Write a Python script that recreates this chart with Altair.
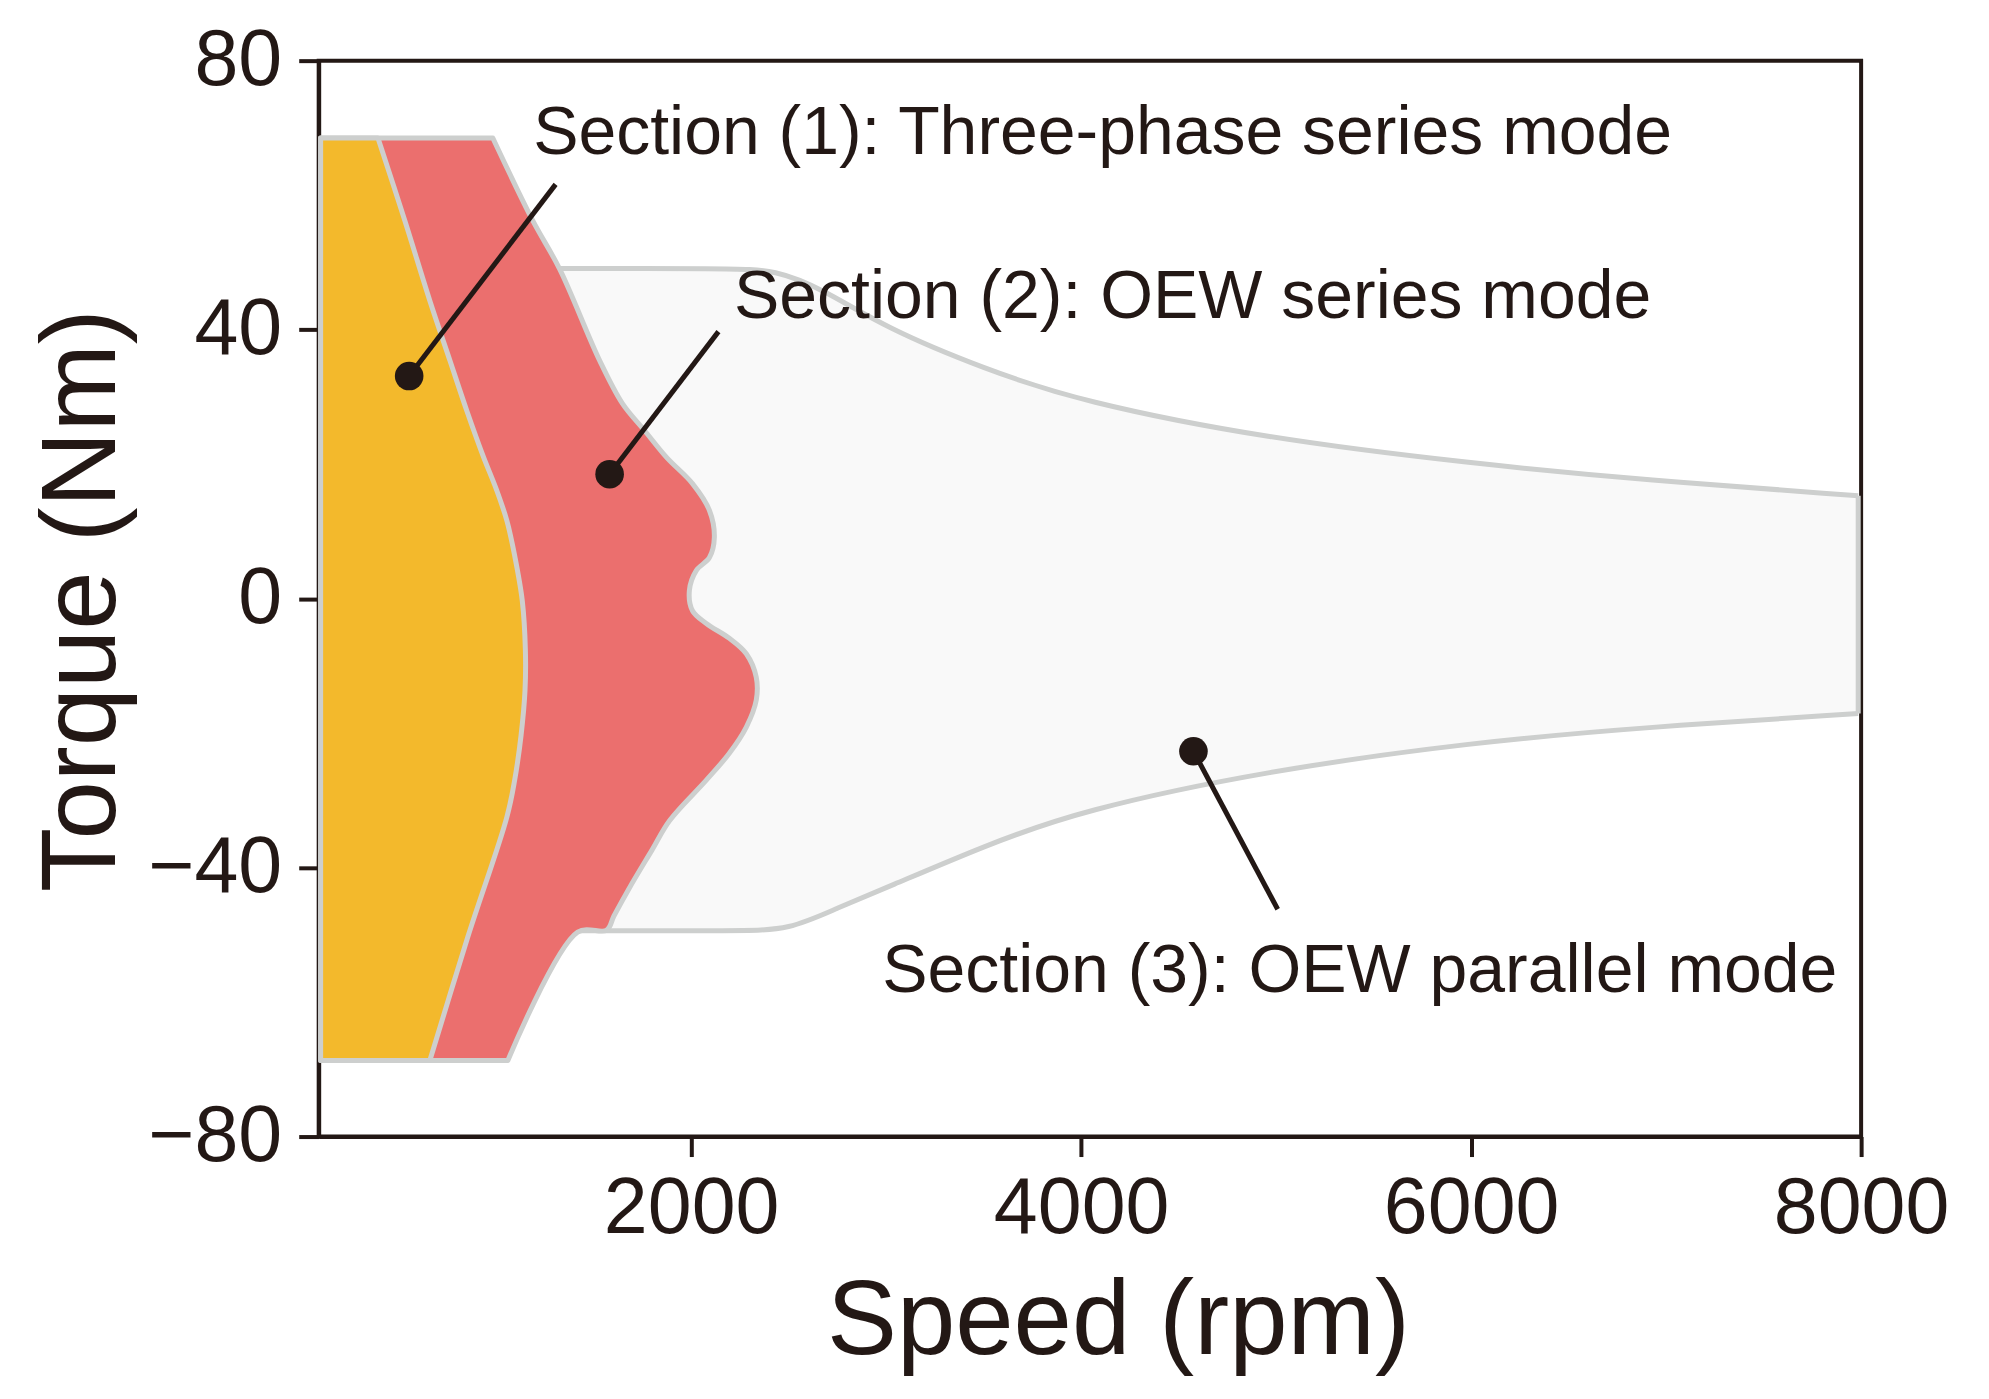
import altair as alt
import pandas as pd

# ---------------- data ----------------
# Section (1) boundary: speed (rpm) reached at each torque (Nm)
yellow_torque = [-68.7, -50.3, -32.5, -27.0, -20.3, -13.7, -7.7, -0.3, 6.4, 11.6,
                 16.1, 21.3, 27.9, 35.4, 44.3, 56.2, 68.5]
yellow_speed = [660, 855, 1055, 1095, 1128, 1148, 1150, 1134, 1095, 1055,
                1003, 932, 850, 763, 660, 532, 394]

# Section (2) boundary
red_torque = [-68.7, -49.6, -49.3, -47.2, -43.1, -37.4, -33.0, -27.0, -23.0, -19.1, -15.1,
              -11.7, -8.2, -5.9, -3.7, -1.8, 1.2, 4.2, 6.1, 9.1, 13.1,
              17.1, 21.0, 25.0, 29.0, 35.4, 49.0, 56.2, 68.5]
red_speed = [1060, 1418, 1567, 1604, 1682, 1799, 1890, 2078, 2196, 2283, 2334,
             2334, 2283, 2196, 2078, 2007, 1991, 2027, 2094, 2119, 2094,
             2007, 1874, 1761, 1648, 1531, 1326, 1188, 983]

# Section (3) outer envelope
upper_speed = [1200, 2200, 2430, 2677, 3002, 3500, 3996, 4952, 5998, 6901, 7985]
upper_torque = [49.1, 49.1, 48.9, 46.0, 40.2, 34.2, 29.3, 23.8, 20.1, 17.6, 15.3]
lower_speed = [1200, 2250, 2500, 2750, 3002, 3500, 3996, 4952, 5998, 6901, 7985]
lower_torque = [-49.4, -49.4, -49.3, -46.0, -43.0, -36.8, -31.5, -25.6, -21.4, -19.1, -17.1]

labels = ["Section (1): Three-phase series mode",
          "Section (2): OEW series mode",
          "Section (3): OEW parallel mode"]
label_x = [1190, 2220, 2980]
label_y = [66.1, 41.8, -58.5]
dot_x = [554, 1582, 4576]
dot_y = [33.1, 18.5, -22.7]
lead_x = [1305, 2140, 5008]
lead_y = [61.6, 39.7, -46.2]

x_ticks = [2000, 4000, 6000, 8000]
y_ticks = [-80, -40, 0, 40, 80]

# ---------------- styling ----------------
INK = "#231815"
EDGE = "#CDCFCE"
YELLOW = "#F3B92C"
RED = "#EB6F6E"
PALE = "#F9F9F9"
FONT = "Liberation Sans"

X = alt.X("x:Q", title="Speed (rpm)",
          scale=alt.Scale(domain=[90, 8000], nice=False, zero=False),
          axis=alt.Axis(values=x_ticks, format="d", grid=False, domainColor=INK, domainWidth=4,
                        tickColor=INK, tickWidth=4, tickSize=20,
                        labelFont=FONT, labelFontSize=79, labelColor=INK, labelPadding=14,
                        labelFlush=False, labelOverlap=False, labelLimit=0,
                        titleFont=FONT, titleFontSize=105, titleColor=INK,
                        titleFontWeight="normal", titleX=800, titleY=217,
                        titleBaseline="alphabetic", titleAlign="center"))
Y = alt.Y("y:Q", title="Torque (Nm)",
          scale=alt.Scale(domain=[-80, 80], nice=False, zero=False),
          axis=alt.Axis(values=y_ticks, format="d", grid=False, domainColor=INK, domainWidth=4,
                        tickColor=INK, tickWidth=4, tickSize=20,
                        labelFont=FONT, labelFontSize=79, labelColor=INK, labelPadding=17,
                        labelOverlap=False, labelLimit=0,
                        titleFont=FONT, titleFontSize=105, titleColor=INK,
                        titleFontWeight="normal", titleX=-204, titleY=540,
                        titleAngle=270, titleBaseline="alphabetic", titleAlign="center"))

# ---------------- tables ----------------
upper_df = pd.DataFrame({"x": upper_speed, "y": upper_torque, "y2": -5.0})
lower_df = pd.DataFrame({"x": lower_speed, "y": lower_torque, "y2": 5.0})
right_df = pd.DataFrame({"x": [upper_speed[-1]], "y": [upper_torque[-1]], "y2": [lower_torque[-1]]})
red_df = pd.DataFrame({"x": red_speed, "y": red_torque, "x2": 100})
yellow_df = pd.DataFrame({"x": yellow_speed, "y": yellow_torque, "x2": 100})
ann_df = pd.DataFrame({"x": dot_x, "y": dot_y, "x2": lead_x, "y2": lead_y})
text_df = pd.DataFrame({"x": label_x, "y": label_y, "t": labels})

env_up = alt.Chart(upper_df).mark_area(interpolate="basis", color=PALE).encode(
    x=X, y=Y, y2="y2:Q")
env_lo = alt.Chart(lower_df).mark_area(interpolate="basis", color=PALE).encode(
    x=X, y=Y, y2="y2:Q")
env_up_line = alt.Chart(upper_df).mark_line(interpolate="basis", color=EDGE,
                                            strokeWidth=5).encode(x=X, y=Y)
env_lo_line = alt.Chart(lower_df).mark_line(interpolate="basis", color=EDGE,
                                            strokeWidth=5).encode(x=X, y=Y)
env_right = alt.Chart(right_df).mark_rule(color=EDGE, strokeWidth=5).encode(
    x=X, y=Y, y2="y2:Q")

red = alt.Chart(red_df).mark_area(orient="horizontal", interpolate="catmull-rom",
                                  fill=RED, stroke=EDGE, strokeWidth=5,
                                  strokeJoin="round").encode(x=X, x2="x2:Q", y=Y)
yellow = alt.Chart(yellow_df).mark_area(orient="horizontal", interpolate="catmull-rom",
                                        fill=YELLOW, stroke=EDGE, strokeWidth=5,
                                        strokeJoin="round").encode(x=X, x2="x2:Q", y=Y)

leads = alt.Chart(ann_df).mark_rule(color=INK, strokeWidth=5).encode(
    x=X, y=Y, x2="x2:Q", y2="y2:Q")
dots = alt.Chart(ann_df).mark_circle(color=INK, size=820, opacity=1).encode(x=X, y=Y)
texts = alt.Chart(text_df).mark_text(align="left", baseline="alphabetic", font=FONT,
                                     fontSize=68, color=INK).encode(x=X, y=Y, text="t:N")

chart = alt.layer(env_up, env_lo, env_up_line, env_lo_line, env_right, red, yellow,
                  leads, dots, texts).properties(
    width=1544, height=1077,
    background="white",
    autosize=alt.AutoSizeParams(type="none"),
    padding={"left": 311, "top": 52, "right": 120, "bottom": 250},
).configure_view(stroke=INK, strokeWidth=4)

chart.save("out.html", embed_options={"renderer": "svg", "actions": False})
